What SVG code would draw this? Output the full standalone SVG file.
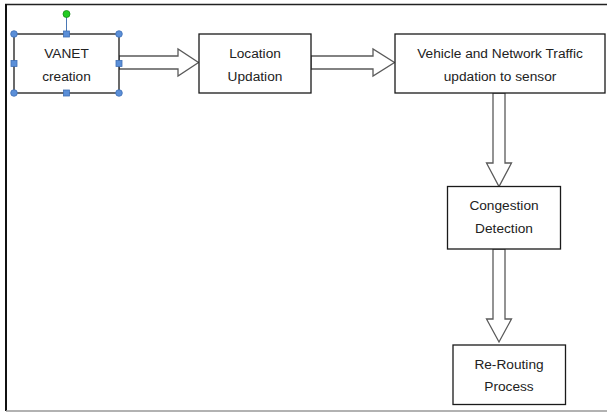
<svg xmlns="http://www.w3.org/2000/svg" width="607" height="412" viewBox="0 0 607 412">
<style>
.box{fill:#fff;stroke:#1a1a1a;stroke-width:1.3}
.t{font-family:"Liberation Sans",Arial,sans-serif;font-size:13.7px;fill:#222;text-anchor:middle}
.arr{fill:#fff;stroke:#5a5a5a;stroke-width:1.3;stroke-linejoin:miter}
.hc{fill:#5b8fd8;stroke:#3f6fb5;stroke-width:0.8}
.hs{fill:#5b8fd8;stroke:#3f6fb5;stroke-width:0.8}
</style>
<rect x="0" y="0" width="607" height="412" fill="#fff"/>
<g id="frame">
<line x1="5" y1="4.5" x2="607" y2="4.5" stroke="#222" stroke-width="1.6"/>
<line x1="6" y1="4" x2="6" y2="411" stroke="#111" stroke-width="2"/>
<line x1="6" y1="411" x2="607" y2="411" stroke="#999" stroke-width="1.5"/>
</g>
<g id="connectors">
<polygon class="arr" points="119,56 178,56 178,49 198.5,62.5 178,76 178,69 119,69"/>
<polygon class="arr" points="311,56 373,56 373,49 394.5,62.5 373,76 373,69 311,69"/>
<polygon class="arr" points="493,93 505,93 505,163 511.5,163 499,186.5 486.5,163 493,163"/>
<polygon class="arr" points="493,249 505,249 505,319 511.5,319 499,342 486.5,319 493,319"/>
</g>
<g id="n1">
<rect class="box" x="14" y="34" width="105" height="59"/>
<text class="t" x="66.5" y="57.5">VANET</text>
<text class="t" x="66.5" y="81">creation</text>
<line x1="66.5" y1="14" x2="66.5" y2="34" stroke="#4a78b5" stroke-width="1"/>
<circle cx="66.5" cy="14" r="3.5" fill="#22cc22" stroke="#178a17" stroke-width="0.8"/>
<circle class="hc" cx="14" cy="34" r="3.3"/>
<circle class="hc" cx="119" cy="34" r="3.3"/>
<circle class="hc" cx="14" cy="93" r="3.3"/>
<circle class="hc" cx="119" cy="93" r="3.3"/>
<rect class="hs" x="63.5" y="31" width="6" height="6"/>
<rect class="hs" x="63.5" y="90" width="6" height="6"/>
<rect class="hs" x="11" y="60.5" width="6" height="6"/>
<rect class="hs" x="116" y="60.5" width="6" height="6"/>
</g>
<g id="n2">
<rect class="box" x="199" y="34" width="112" height="59"/>
<text class="t" x="255" y="57.5">Location</text>
<text class="t" x="255" y="80.5">Updation</text>
</g>
<g id="n3">
<rect class="box" x="395" y="34" width="210" height="59"/>
<text class="t" x="500" y="57.5">Vehicle and Network Traffic</text>
<text class="t" x="500" y="80.5">updation to sensor</text>
</g>
<g id="n4">
<rect class="box" x="447.5" y="186.5" width="113" height="62.5"/>
<text class="t" x="504" y="209.5">Congestion</text>
<text class="t" x="504" y="233">Detection</text>
</g>
<g id="n5">
<rect class="box" x="453" y="345" width="112.5" height="59.5"/>
<text class="t" x="509" y="368.5">Re-Routing</text>
<text class="t" x="509" y="391">Process</text>
</g>
</svg>
